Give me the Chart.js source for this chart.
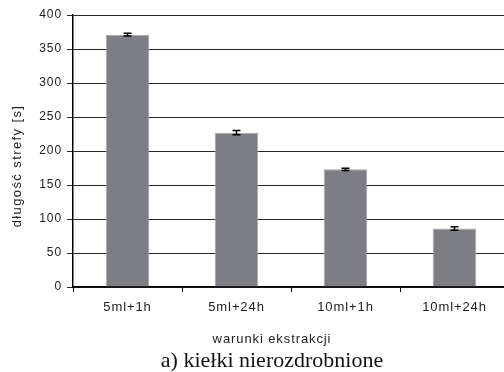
<!DOCTYPE html>
<html>
<head>
<meta charset="utf-8">
<script src="https://cdn.jsdelivr.net/npm/chart.js@4"></script>
<style>
  html, body { margin: 0; padding: 0; background: #fff; overflow: hidden; }
  #wrap { width: 512px; height: 372px; position: relative; }
</style>
</head>
<body>
<div id="wrap"><canvas id="c"></canvas></div>
<script>
// Extraction conditions and measured zone length (seconds)
const categories = ['5ml+1h', '5ml+24h', '10ml+1h', '10ml+24h'];
const zoneLength = [371, 227, 173, 86];
const zoneError = [2, 3, 1.5, 2.5];
const yTicks = [0, 50, 100, 150, 200, 250, 300, 350, 400];

const yTitle = 'długość strefy [s]';
const xTitle = 'warunki ekstrakcji';
const caption = 'a) kiełki nierozdrobnione';

const sansFont = '"Liberation Sans", Arial, sans-serif';

// Slightly open letter spacing for all axis text
const spacing = {
  id: 'spacing',
  beforeUpdate(chart) { chart.ctx.letterSpacing = '0.9px'; },
  beforeDraw(chart) { chart.ctx.letterSpacing = '0.9px'; }
};

// Error bars and extra titles drawn on top of the bars
const extras = {
  id: 'extras',
  afterDatasetsDraw(chart) {
    const ctx = chart.ctx;
    const meta = chart.getDatasetMeta(0);
    const y = chart.scales.y;
    ctx.save();
    ctx.strokeStyle = '#000';
    ctx.lineWidth = 1.5;
    meta.data.forEach((bar, i) => {
      const v = zoneLength[i], e = zoneError[i];
      const yt = y.getPixelForValue(v + e);
      const yb = y.getPixelForValue(v - e);
      const x = bar.x;
      ctx.beginPath();
      ctx.moveTo(x, yt); ctx.lineTo(x, yb);
      ctx.moveTo(x - 4, yt); ctx.lineTo(x + 4, yt);
      ctx.moveTo(x - 4, yb); ctx.lineTo(x + 4, yb);
      ctx.stroke();
    });
    ctx.restore();
  },
  afterDraw(chart) {
    const ctx = chart.ctx;
    ctx.save();
    ctx.fillStyle = '#222';
    ctx.textAlign = 'center';
    ctx.textBaseline = 'middle';
    ctx.font = '13px ' + sansFont;
    ctx.letterSpacing = '0.9px';
    ctx.fillText(xTitle, 272, 339);
    ctx.translate(17, 166);
    ctx.rotate(-Math.PI / 2);
    ctx.letterSpacing = '1.4px';
    ctx.fillText(yTitle, 0, 0);
    ctx.restore();
    ctx.save();
    ctx.fillStyle = '#111';
    ctx.textAlign = 'center';
    ctx.textBaseline = 'alphabetic';
    ctx.letterSpacing = '0px';
    ctx.font = '22px "Liberation Serif", "Times New Roman", serif';
    ctx.fillText(caption, 272, 367);
    ctx.restore();
  }
};

new Chart(document.getElementById('c'), {
  type: 'bar',
  data: {
    labels: categories,
    datasets: [{
      data: zoneLength,
      backgroundColor: '#7d7e83',
      borderColor: '#a9a9ab',
      borderWidth: 1,
      categoryPercentage: 1,
      barPercentage: 0.4
    }]
  },
  options: {
    responsive: true,
    maintainAspectRatio: false,
    animation: false,
    layout: { padding: { top: 15, right: 3, left: 0, bottom: 0 } },
    plugins: { legend: { display: false }, tooltip: { enabled: false } },
    scales: {
      x: {
        afterFit(s) { s.height = 85; },
        grid: {
          offset: true,
          drawOnChartArea: false,
          drawTicks: true,
          tickLength: 5,
          color: '#000',
          lineWidth: 1
        },
        border: { display: true, color: '#000', width: 1.5 },
        ticks: {
          padding: 8,
          color: '#222',
          font: { family: sansFont, size: 13 }
        }
      },
      y: {
        min: 0,
        max: 400,
        afterFit(s) { s.width = 73; },
        afterBuildTicks(s) { s.ticks = yTicks.map(v => ({ value: v })); },
        grid: {
          color: '#2a2a2a',
          lineWidth: 1,
          tickLength: 6
        },
        border: { display: true, color: '#000', width: 1.5 },
        ticks: {
          padding: 5,
          color: '#222',
          font: { family: sansFont, size: 12 }
        }
      }
    }
  },
  plugins: [spacing, extras]
});
</script>
</body>
</html>
